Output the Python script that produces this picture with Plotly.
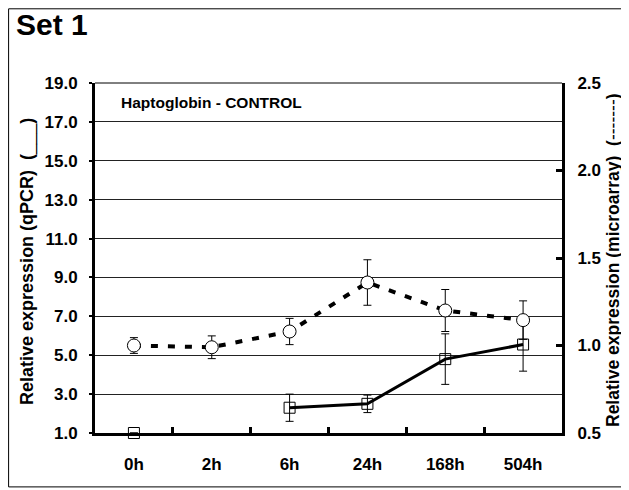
import plotly.graph_objects as go

# time points
timepoints = ["0h", "2h", "6h", "24h", "168h", "504h"]

# qPCR relative expression (left axis), no value at 2h
qpcr_values = [1.0, None, 2.3, 2.5, 4.8, 5.55]
qpcr_errors = [None, None, 0.7, 0.45, 1.3, 1.37]

# microarray relative expression (right axis)
array_values = [1.0, 0.99, 1.08, 1.36, 1.2, 1.145]
array_errors = [0.045, 0.065, 0.075, 0.13, 0.12, 0.11]

left_ticks = [1.0, 3.0, 5.0, 7.0, 9.0, 11.0, 13.0, 15.0, 17.0, 19.0]
right_ticks = [0.5, 1.0, 1.5, 2.0, 2.5]

FONT = "Liberation Sans, Arial, sans-serif"
TICK_FONT = dict(family=FONT, size=17, weight="bold")

fig = go.Figure()

# microarray (dashed, circles)
fig.add_trace(go.Scatter(
    x=timepoints, y=array_values, yaxis="y2",
    mode="lines+markers",
    line=dict(color="black", width=4, dash="7px,10px"),
    marker=dict(symbol="circle", size=13, color="white",
                line=dict(color="black", width=1)),
    error_y=dict(type="data", array=array_errors, color="black",
                 thickness=1, width=4),
    showlegend=False, cliponaxis=False,
))

# qPCR (solid, squares)
fig.add_trace(go.Scatter(
    x=timepoints, y=qpcr_values,
    mode="lines+markers", connectgaps=False,
    line=dict(color="black", width=3),
    marker=dict(symbol="square-open", size=11,
                line=dict(color="black", width=1)),
    error_y=dict(type="data", array=qpcr_errors, color="black",
                 thickness=1, width=4),
    showlegend=False, cliponaxis=False,
))

# page body has an 8px margin, so the plot area is shifted up/left by 8px
fig.update_layout(
    width=629, height=490,
    margin=dict(l=87, r=75, t=75, b=65),
    plot_bgcolor="white", paper_bgcolor="white",
    font=dict(family=FONT, size=13, color="black"),
    xaxis=dict(
        type="category", categoryorder="array", categoryarray=timepoints,
        range=[-0.5, 5.5],
        showline=True, linecolor="black", linewidth=3,
        ticks="inside", tickson="boundaries", ticklen=6, tickwidth=3,
        tickcolor="black", showgrid=False,
        tickfont=TICK_FONT, ticklabelstandoff=14,
    ),
    yaxis=dict(
        range=[1, 19], tickvals=left_ticks,
        ticktext=[f"{v:.1f}" for v in left_ticks],
        showline=True, linecolor="black", linewidth=3,
        ticks="outside", ticklen=3, tickwidth=2, tickcolor="black",
        showgrid=True, gridcolor="#222", gridwidth=1,
        zeroline=False,
        tickfont=TICK_FONT, ticklabelstandoff=8,
    ),
    yaxis2=dict(
        range=[0.5, 2.5], tickvals=right_ticks,
        ticktext=[f"{v:.1f}" for v in right_ticks],
        overlaying="y", side="right",
        showline=True, linecolor="black", linewidth=3,
        ticks="inside", ticklen=6, tickwidth=3, tickcolor="black",
        showgrid=False, zeroline=False,
        tickfont=TICK_FONT, ticklabelstandoff=9,
    ),
)

# thin top line at 19.0
fig.add_shape(type="line", xref="paper", yref="paper",
              x0=0, x1=1, y0=1, y1=1, line=dict(color="black", width=1))

# outer frame
fig.add_shape(type="rect", xref="paper", yref="paper",
              x0=-0.185, x1=1.139, y0=-0.154, y1=1.212,
              line=dict(color="black", width=1))

fig.add_annotation(text="<b>Set 1</b>", xref="paper", yref="paper",
                   x=-0.174, y=1.166, xanchor="left", yanchor="middle",
                   showarrow=False, font=dict(family=FONT, size=30))

fig.add_annotation(text="<b>Haptoglobin - CONTROL</b>", xref="paper", yref="paper",
                   x=0.052, y=0.943, xanchor="left", yanchor="middle",
                   showarrow=False, font=dict(family=FONT, size=15.5))

fig.add_annotation(text="<b>Relative expression (qPCR) &nbsp;(</b>___<b>)</b>",
                   xref="paper", yref="paper", x=-0.146, y=0.491,
                   xanchor="center", yanchor="middle",
                   textangle=-90, showarrow=False,
                   font=dict(family=FONT, size=18))

fig.add_annotation(text="<b>Relative expression (microarray) &nbsp;(</b>-------<b>)</b>",
                   xref="paper", yref="paper", x=1.109, y=0.494,
                   xanchor="center", yanchor="middle",
                   textangle=-90, showarrow=False,
                   font=dict(family=FONT, size=17.5))

fig.write_html("out.html")
